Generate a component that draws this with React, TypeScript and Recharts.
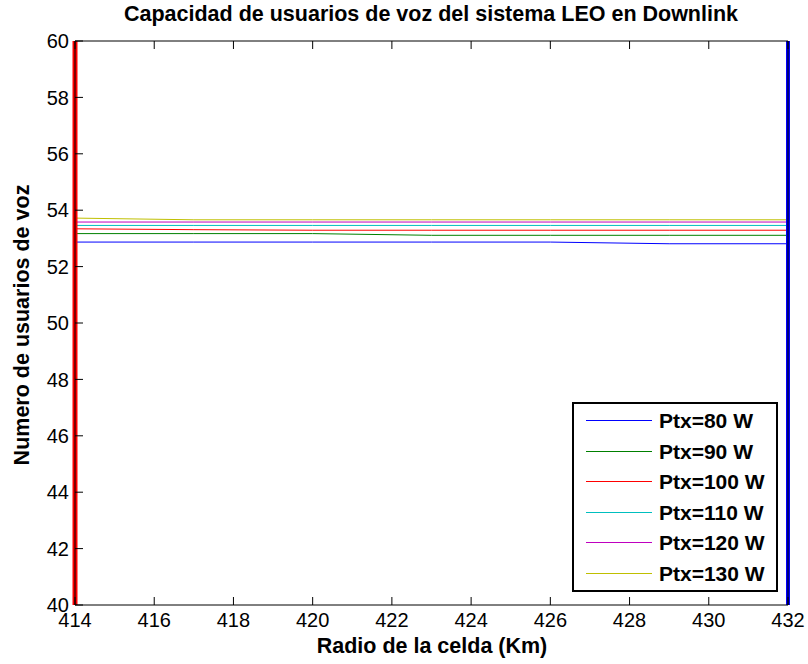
import { LineChart, Line, XAxis, YAxis, ReferenceLine, Legend } from "recharts";

const radio = [414, 417, 420, 423, 426, 429, 432];
const ptx80 = [52.87, 52.87, 52.87, 52.87, 52.87, 52.81, 52.81];
const ptx90 = [53.17, 53.17, 53.17, 53.11, 53.11, 53.11, 53.11];
const ptx100 = [53.34, 53.31, 53.29, 53.29, 53.29, 53.29, 53.29];
const ptx110 = [53.46, 53.46, 53.46, 53.46, 53.46, 53.46, 53.46];
const ptx120 = [53.58, 53.58, 53.58, 53.58, 53.58, 53.58, 53.58];
const ptx130 = [53.72, 53.66, 53.66, 53.66, 53.66, 53.66, 53.66];

const xTicks = [414, 416, 418, 420, 422, 424, 426, 428, 430, 432];
const yTicks = [40, 42, 44, 46, 48, 50, 52, 54, 56, 58, 60];

const series = [
  { key: "p80", name: "Ptx=80 W", color: "#0000ff", values: ptx80 },
  { key: "p90", name: "Ptx=90 W", color: "#008000", values: ptx90 },
  { key: "p100", name: "Ptx=100 W", color: "#ff0000", values: ptx100 },
  { key: "p110", name: "Ptx=110 W", color: "#00bfbf", values: ptx110 },
  { key: "p120", name: "Ptx=120 W", color: "#bf00bf", values: ptx120 },
  { key: "p130", name: "Ptx=130 W", color: "#bfbf00", values: ptx130 },
];

const data = radio.map((r, i) => {
  const row: Record<string, number> = { radio: r };
  series.forEach((s) => {
    row[s.key] = s.values[i];
  });
  return row;
});

const font = "'Liberation Sans', Arial, sans-serif";
const TICK = 8;

// ticks point into the plot, like matlab
const BottomTick = (props: any) => {
  const { x, y, payload } = props;
  return (
    <g>
      <line x1={x} x2={x} y1={y} y2={y - TICK} stroke="#000" />
      <text x={x} y={y + 22} textAnchor="middle" fontSize={20} fontFamily={font} fill="#000">
        {payload.value}
      </text>
    </g>
  );
};

const TopTick = (props: any) => {
  const { x, y } = props;
  return <line x1={x} x2={x} y1={y} y2={y + TICK} stroke="#000" />;
};

const LeftTick = (props: any) => {
  const { x, y, payload } = props;
  return (
    <g>
      <line x1={x} x2={x + TICK} y1={y} y2={y} stroke="#000" />
      <text x={x - 6} y={y} dy="0.36em" textAnchor="end" fontSize={20} fontFamily={font} fill="#000">
        {payload.value}
      </text>
    </g>
  );
};

const RightTick = (props: any) => {
  const { x, y } = props;
  return <line x1={x} x2={x - TICK} y1={y} y2={y} stroke="#000" />;
};

const rowY = [18, 49, 79, 110, 140, 171];

const LegendBox = () => (
  <svg width={206} height={190} style={{ display: "block" }}>
    <rect x={1} y={1} width={204} height={188} fill="#fff" stroke="#000" strokeWidth={2} />
    {series.map((s, i) => (
      <g key={s.key}>
        <line
          x1={14}
          x2={80}
          y1={rowY[i] + 0.5}
          y2={rowY[i] + 0.5}
          stroke={s.color}
          strokeWidth={1}
        />
        <text
          x={87}
          y={rowY[i]}
          dy="0.36em"
          fontFamily={font}
          fontWeight="bold"
          fontSize={21}
          fill="#000"
        >
          {s.name}
        </text>
      </g>
    ))}
  </svg>
);

export default function App() {
  return (
    <div
      style={{
        position: "absolute",
        left: 0,
        top: 0,
        width: 808,
        height: 664,
        background: "#fff",
        fontFamily: font,
      }}
    >
      <LineChart
        width={808}
        height={664}
        data={data}
        margin={{ top: 40, right: 19, bottom: 29, left: 15 }}
      >
        <XAxis
          dataKey="radio"
          type="number"
          domain={[414, 432]}
          ticks={xTicks}
          tick={BottomTick}
          tickLine={false}
          tickSize={0}
          tickMargin={0}
          stroke="#000"
          height={30}
          allowDataOverflow
        />
        <XAxis
          xAxisId="top"
          orientation="top"
          dataKey="radio"
          type="number"
          domain={[414, 432]}
          ticks={xTicks}
          tick={TopTick}
          tickLine={false}
          tickSize={0}
          tickMargin={0}
          stroke="#000"
          height={1}
        />
        <YAxis
          type="number"
          domain={[40, 60]}
          ticks={yTicks}
          tick={LeftTick}
          tickLine={false}
          tickSize={0}
          tickMargin={0}
          stroke="#000"
          width={60}
          allowDataOverflow
        />
        <YAxis
          yAxisId="right"
          orientation="right"
          type="number"
          domain={[40, 60]}
          ticks={yTicks}
          tick={RightTick}
          tickLine={false}
          tickSize={0}
          tickMargin={0}
          stroke="#000"
          width={1}
        />
        {series.map((s) => (
          <Line
            key={s.key}
            type="linear"
            dataKey={s.key}
            name={s.name}
            stroke={s.color}
            strokeWidth={1}
            dot={false}
            isAnimationActive={false}
          />
        ))}
        <ReferenceLine x={414} stroke="#ff0000" strokeWidth={5} />
        <ReferenceLine x={432} stroke="#0000ff" strokeWidth={4} />
        <Legend
          layout="vertical"
          align="center"
          verticalAlign="middle"
          content={() => <LegendBox />}
          wrapperStyle={{ left: 572, top: 402, width: 206, height: 190 }}
        />
      </LineChart>
      <div
        style={{
          position: "absolute",
          left: 0,
          top: 2,
          width: 862,
          textAlign: "center",
          fontWeight: "bold",
          fontSize: 21.5,
        }}
      >
        Capacidad de usuarios de voz del sistema LEO en Downlink
      </div>
      <div
        style={{
          position: "absolute",
          left: 76,
          width: 712,
          top: 634,
          textAlign: "center",
          fontWeight: "bold",
          fontSize: 21.5,
        }}
      >
        Radio de la celda (Km)
      </div>
      <div
        style={{
          position: "absolute",
          left: 22,
          top: 325,
          transform: "translate(-50%, -50%) rotate(-90deg)",
          whiteSpace: "nowrap",
          fontWeight: "bold",
          fontSize: 21.5,
        }}
      >
        Numero de usuarios de voz
      </div>
    </div>
  );
}
